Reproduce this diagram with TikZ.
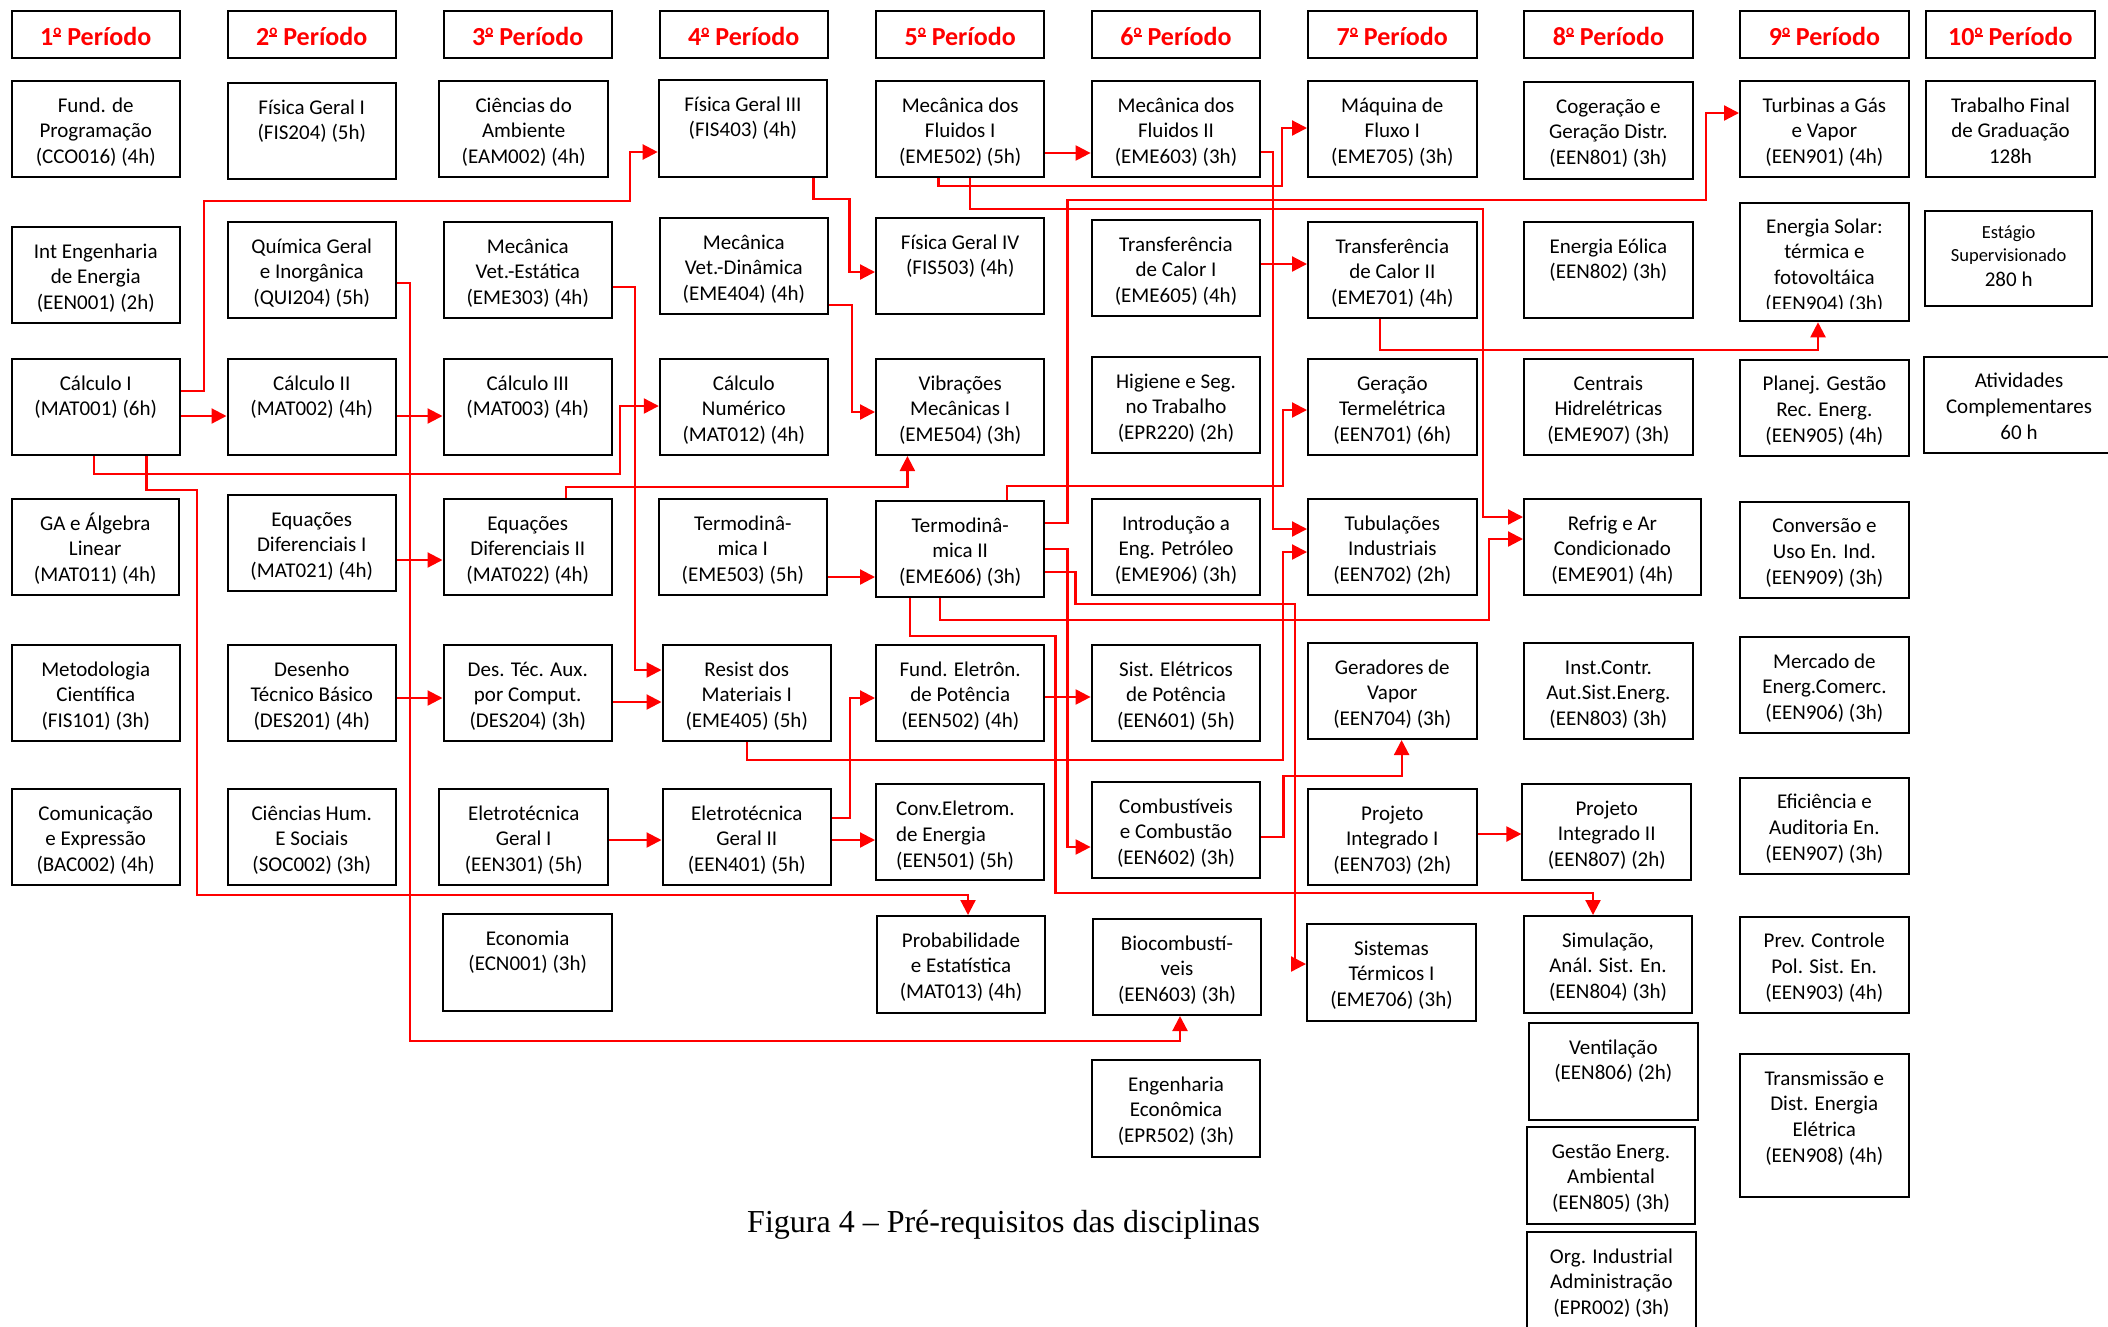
\documentclass[tikz,border=0pt]{standalone}
\usepackage{fontspec}
\setmainfont{Carlito}
\newfontfamily\capfont{Liberation Serif}
\usetikzlibrary{arrows.meta}
\definecolor{lred}{RGB}{255,0,0}
\tikzset{
  box/.style={draw=black, line width=2pt, inner sep=0pt, anchor=north west},
  txt/.style={anchor=base, inner sep=0pt, font=\fontsize{21}{25.7}\selectfont},
  htxt/.style={anchor=base, inner sep=0pt, text=lred, font=\bfseries\fontsize{26}{30}\selectfont},
  arr/.style={draw=lred, line width=2.2pt, line join=miter, -{Triangle[length=15pt,width=15pt]}},
}
\newcommand\ordo{\raisebox{10pt}{\fontsize{15}{15}\selectfont\rlap{\rule[-2.2pt]{8pt}{1.8pt}}o}}
\newcommand\coursebox[6]{%
  \node[box, minimum width={#4-#2}, minimum height={#5-#3}] (#1) at (#2,#3) {};
  \node[txt] (#1-t) at ([yshift=-32pt]#1.north) {\parbox[t]{200pt}{\centering #6}};
}
\newcommand\headbox[4]{%
  \node[box, minimum width={#3-#2}, minimum height=47.5] (#1) at (#2,9.5) {};
  \node[htxt] (#1-t) at ([yshift=-35.5pt]#1.north) {#4\ordo\ Período};
}
\begin{document}
\begin{tikzpicture}[x=1pt,y=-1pt]
\useasboundingbox (0,0) rectangle (2108,1326);
\fill[white] (0,0) rectangle (2108,1326);
% headers
\headbox{h1}{10.5}{179}{1}
\headbox{h2}{226.5}{395}{2}
\headbox{h3}{442.5}{611}{3}
\headbox{h4}{658.8}{826.8}{4}
\headbox{h5}{875}{1043.4}{5}
\headbox{h6}{1090.6}{1259.4}{6}
\headbox{h7}{1307}{1475.6}{7}
\headbox{h8}{1523}{1691.8}{8}
\headbox{h9}{1739}{1907.8}{9}
\headbox{h10}{1925}{2093.7}{10}
% column 1
\coursebox{fp}{10.5}{80}{179}{176}{Fund. de\\Programação\\(CCO016) (4h)}
\coursebox{ie}{10.5}{226}{179}{322}{Int Engenharia\\de Energia\\(EEN001) (2h)}
\coursebox{ca1}{10.5}{358}{179}{454}{Cálculo I\\(MAT001) (6h)}
\coursebox{ga}{10.5}{498}{178}{594}{GA e Álgebra\\Linear\\(MAT011) (4h)}
\coursebox{mc}{10.5}{644}{179}{740}{Metodologia\\Científica\\(FIS101) (3h)}
\coursebox{ce}{10.5}{788}{179}{884}{Comunicação\\e Expressão\\(BAC002) (4h)}
% column 2
\coursebox{fga}{226.5}{82}{395}{178}{Física Geral I\\(FIS204) (5h)}
\coursebox{qg}{226.5}{221}{395}{317}{Química Geral\\e Inorgânica\\(QUI204) (5h)}
\coursebox{ca2}{226.5}{358}{395}{454}{Cálculo II\\(MAT002) (4h)}
\coursebox{eda}{226.5}{494}{395}{590}{Equações\\Diferenciais I\\(MAT021) (4h)}
\coursebox{dt}{226.5}{644}{395}{740}{Desenho\\Técnico Básico\\(DES201) (4h)}
\coursebox{chs}{226.5}{788}{395}{884}{Ciências Hum.\\E Sociais\\(SOC002) (3h)}
% column 3
\coursebox{cam}{438.4}{80}{607}{176}{Ciências do\\Ambiente\\(EAM002) (4h)}
\coursebox{mve}{442.5}{221}{611}{317}{Mecânica\\Vet.-Estática\\(EME303) (4h)}
\coursebox{ca3}{442.5}{358}{611}{454}{Cálculo III\\(MAT003) (4h)}
\coursebox{edb}{442.5}{498}{611}{594}{Equações\\Diferenciais II\\(MAT022) (4h)}
\coursebox{dta}{442.5}{644}{611}{740}{Des. Téc. Aux.\\por Comput.\\(DES204) (3h)}
\coursebox{ela}{438.4}{788}{607}{884}{Eletrotécnica\\Geral I\\(EEN301) (5h)}
\coursebox{eco}{442.4}{913}{611}{1010}{Economia\\(ECN001) (3h)}
% column 4
\coursebox{fgc}{657.7}{79}{826.1}{176}{Física Geral III\\(FIS403) (4h)}
\coursebox{mvd}{658.8}{217}{826.8}{313}{Mecânica\\Vet.-Dinâmica\\(EME404) (4h)}
\coursebox{cn}{658.8}{358}{826.8}{454}{Cálculo\\Numérico\\(MAT012) (4h)}
\coursebox{tma}{657.7}{498}{826}{594}{Termodinâ-\\mica I\\(EME503) (5h)}
\coursebox{rm}{661.5}{644}{830}{740}{Resist dos\\Materiais I\\(EME405) (5h)}
\coursebox{elb}{661.5}{788}{830}{884}{Eletrotécnica\\Geral II\\(EEN401) (5h)}
% column 5
\coursebox{mfa}{875}{80}{1043.4}{176}{Mecânica dos\\Fluidos I\\(EME502) (5h)}
\coursebox{fgd}{875}{217}{1043.4}{313}{Física Geral IV\\(FIS503) (4h)}
\coursebox{vm}{875}{358}{1043.4}{454}{Vibrações\\Mecânicas I\\(EME504) (3h)}
\coursebox{tmb}{875}{500}{1043.4}{596}{Termodinâ-\\mica II\\(EME606) (3h)}
\coursebox{fe}{875}{644}{1043.4}{740}{Fund. Eletrôn.\\de Potência\\(EEN502) (4h)}
\node[box, minimum width={1043.4-875}, minimum height={879-783}] (cv) at (875,783) {};
\node[txt, anchor=base west] (cv-t) at (896,815.7) {\parbox[t]{140pt}{\raggedright Conv.Eletrom.\\de Energia\\(EEN501) (5h)}};
\coursebox{pe}{876}{915}{1044}{1012}{Probabilidade\\e Estatística\\(MAT013) (4h)}
% column 6
\coursebox{mfb}{1090.6}{80}{1259.4}{176}{Mecânica dos\\Fluidos II\\(EME603) (3h)}
\coursebox{tca}{1090.6}{219}{1259.4}{315}{Transferência\\de Calor I\\(EME605) (4h)}
\coursebox{hs}{1090.6}{356}{1259.4}{452}{Higiene e Seg.\\no Trabalho\\(EPR220) (2h)}
\coursebox{ip}{1090.6}{498}{1259.4}{594}{Introdução a\\Eng. Petróleo\\(EME906) (3h)}
\coursebox{sep}{1090.6}{644}{1259.4}{740}{Sist. Elétricos\\de Potência\\(EEN601) (5h)}
\coursebox{cc}{1090.6}{781}{1259.4}{877}{Combustíveis\\e Combustão\\(EEN602) (3h)}
\coursebox{bc}{1092}{918}{1260}{1014}{Biocombustí-\\veis\\(EEN603) (3h)}
\coursebox{ee}{1091}{1059}{1259}{1156}{Engenharia\\Econômica\\(EPR502) (3h)}
% column 7
\coursebox{mq}{1307}{80}{1475.6}{176}{Máquina de\\Fluxo I\\(EME705) (3h)}
\coursebox{tcb}{1307}{221}{1475.6}{317}{Transferência\\de Calor II\\(EME701) (4h)}
\coursebox{gt}{1307}{358}{1475.6}{454}{Geração\\Termelétrica\\(EEN701) (6h)}
\coursebox{ti}{1307}{498}{1475.6}{594}{Tubulações\\Industriais\\(EEN702) (2h)}
\coursebox{gv}{1307}{642}{1475.6}{738}{Geradores de\\Vapor\\(EEN704) (3h)}
\coursebox{pia}{1307}{788}{1475.6}{884}{Projeto\\Integrado I\\(EEN703) (2h)}
\coursebox{st}{1306}{923}{1475}{1020}{Sistemas\\Térmicos I\\(EME706) (3h)}
% column 8
\coursebox{cg}{1523}{81}{1691.8}{178}{Cogeração e\\Geração Distr.\\(EEN801) (3h)}
\coursebox{eo}{1523}{221}{1691.8}{317}{Energia Eólica\\(EEN802) (3h)}
\coursebox{chd}{1523}{358}{1691.8}{454}{Centrais\\Hidrelétricas\\(EME907) (3h)}
\coursebox{ra}{1523}{498}{1699.8}{594}{Refrig e Ar\\Condicionado\\(EME901) (4h)}
\coursebox{ic}{1523}{642}{1691.8}{738}{Inst.Contr.\\Aut.Sist.Energ.\\(EEN803) (3h)}
\coursebox{pib}{1521.4}{783}{1690}{879}{Projeto\\Integrado II\\(EEN807) (2h)}
\coursebox{sa}{1522.8}{915}{1691.2}{1012}{Simulação,\\Anál. Sist. En.\\(EEN804) (3h)}
\coursebox{ve}{1528}{1022}{1696.6}{1119}{Ventilação\\(EEN806) (2h)}
\coursebox{gea}{1526}{1126}{1694}{1223}{Gestão Energ.\\Ambiental\\(EEN805) (3h)}
\coursebox{oi}{1526}{1231}{1694.8}{1340}{Org. Industrial\\Administração\\(EPR002) (3h)}
% column 9
\coursebox{tg}{1739}{80}{1907.8}{176}{Turbinas a Gás\\e Vapor\\(EEN901) (4h)}
\node[box, minimum width={1907.8-1739}, minimum height={320.3-202}] (es) at (1739,202) {};
\begin{scope}
\clip (1741,203) rectangle (1906,308.5);
\node[txt] (es-t) at ([yshift=-31pt]es.north) {\parbox[t]{200pt}{\centering Energia Solar:\\térmica e\\fotovoltáica\\(EEN904) (3h)}};
\end{scope}
\coursebox{pg}{1739}{358.7}{1907.8}{455}{Planej. Gestão\\Rec. Energ.\\(EEN905) (4h)}
\coursebox{cu}{1739}{500.7}{1907.8}{596.7}{Conversão e\\Uso En. Ind.\\(EEN909) (3h)}
\coursebox{mec}{1739}{636}{1907.8}{732.3}{Mercado de\\Energ.Comerc.\\(EEN906) (3h)}
\coursebox{ea}{1739}{776.7}{1907.8}{873}{Eficiência e\\Auditoria En.\\(EEN907) (3h)}
\coursebox{pc}{1739}{915.7}{1907.5}{1012}{Prev. Controle\\Pol. Sist. En.\\(EEN903) (4h)}
\coursebox{td}{1739}{1053}{1907.5}{1195.7}{Transmissão e\\Dist. Energia\\Elétrica\\(EEN908) (4h)}
% column 10
\coursebox{tf}{1925}{80}{2094}{176}{Trabalho Final\\de Graduação\\128h}
\node[box, minimum width={2091.3-1924}, minimum height={305-210}] (eg) at (1924,210) {};
\node[txt, font=\fontsize{18.5}{23.3}\selectfont] (eg-t) at ([yshift=-28pt]eg.north) {\parbox[t]{200pt}{\centering Estágio\\Supervisionado}};
\node[txt] (eg-h) at ([yshift=-76.5pt]eg.north) {280 h};
\coursebox{ac}{1923}{355.7}{2113}{452}{Atividades\\Complementares\\60 h}
% caption
\node[anchor=base west, inner sep=0pt, font=\capfont\fontsize{32}{38}\selectfont] (cap) at (747,1232) {Figura 4 – Pré-requisitos das disciplinas};
% connectors
\draw[arr] (ca1.east |- 0,391) -- (204,391) -- (204,201) -- (630,201) -- (630,152) -- (fgc.west |- 0,152);
\draw[arr] (ca1.east |- 0,416) -- (ca2.west |- 0,416);
\draw[arr] (ca2.east |- 0,416) -- (ca3.west |- 0,416);
\draw[arr] (qg.east |- 0,283) -- (410,283) -- (410,1041) -- (1180,1041) -- (bc.south -| 1180,0);
\draw[arr] (ca1.south -| 94,0) -- (94,474) -- (620,474) -- (620,406) -- (cn.west |- 0,406);
\draw[arr] (ca1.south -| 146.4,0) -- (146.4,490) -- (197,490) -- (197,895) -- (968,895) -- (pe.north -| 968,0);
\draw[arr] (mve.east |- 0,287) -- (634.7,287) -- (634.7,670) -- (rm.west |- 0,670);
\draw[arr] (mfa.east |- 0,153) -- (mfb.west |- 0,153);
\draw[arr] (mfa.south -| 938.4,0) -- (938.4,186) -- (1282,186) -- (1282,128) -- (mq.west |- 0,128);
\draw[arr] (mfa.south -| 970,0) -- (970,209) -- (1483,209) -- (1483,517) -- (ra.west |- 0,517);
\draw[arr] (fgc.south -| 813.4,0) -- (813.4,199) -- (849.5,199) -- (849.5,272) -- (fgd.west |- 0,272);
\draw[arr] (mvd.east |- 0,305) -- (851.6,305) -- (851.6,412) -- (vm.west |- 0,412);
\draw[arr] (edb.north -| 565.8,0) -- (565.8,487) -- (907.4,487) -- (vm.south -| 907.4,0);
\draw[arr] (mfb.east |- 0,152) -- (1273,152) -- (1273,529) -- (ti.west |- 0,529);
\draw[arr] (rm.south -| 747.3,0) -- (747.3,760) -- (1283,760) -- (1283,552) -- (ti.west |- 0,552);
\draw[arr] (tca.east |- 0,264) -- (tcb.west |- 0,264);
\draw[arr] (tcb.south -| 1380,0) -- (1380,350) -- (1818,350) -- (es.south -| 1818,0);
\draw[arr] (tmb.east |- 0,523) -- (1067.5,523) -- (1067.5,200) -- (1706,200) -- (1706,113) -- (tg.west |- 0,113);
\draw[arr] (tmb.north -| 1007,0) -- (1007,486) -- (1283,486) -- (1283,410) -- (gt.west |- 0,410);
\draw[arr] (tmb.east |- 0,549) -- (1067.5,549) -- (1067.5,847) -- (cc.west |- 0,847);
\draw[arr] (tmb.east |- 0,572) -- (1075.5,572) -- (1075.5,604) -- (1295,604) -- (1295,964) -- (st.west |- 0,964);
\draw[arr] (tmb.south -| 940,0) -- (940,620) -- (1489,620) -- (1489,539) -- (ra.west |- 0,539);
\draw[arr] (tmb.south -| 910,0) -- (910,636) -- (1055.5,636) -- (1055.5,893) -- (1593,893) -- (sa.north -| 1593,0);
\draw[arr] (fe.east |- 0,697) -- (sep.west |- 0,697);
\draw[arr] (elb.east |- 0,818) -- (849.6,818) -- (849.6,698) -- (fe.west |- 0,698);
\draw[arr] (elb.east |- 0,840) -- (cv.west |- 0,840);
\draw[arr] (ela.east |- 0,840) -- (elb.west |- 0,840);
\draw[arr] (dta.east |- 0,702) -- (rm.west |- 0,702);
\draw[arr] (tma.east |- 0,577) -- (tmb.west |- 0,577);
\draw[arr] (eda.east |- 0,560) -- (edb.west |- 0,560);
\draw[arr] (dt.east |- 0,698) -- (dta.west |- 0,698);
\draw[arr] (cc.east |- 0,837) -- (1283.5,837) -- (1283.5,776) -- (1401.6,776) -- (gv.south -| 1401.6,0);
\draw[arr] (pia.east |- 0,834) -- (pib.west |- 0,834);
\end{tikzpicture}
\end{document}
